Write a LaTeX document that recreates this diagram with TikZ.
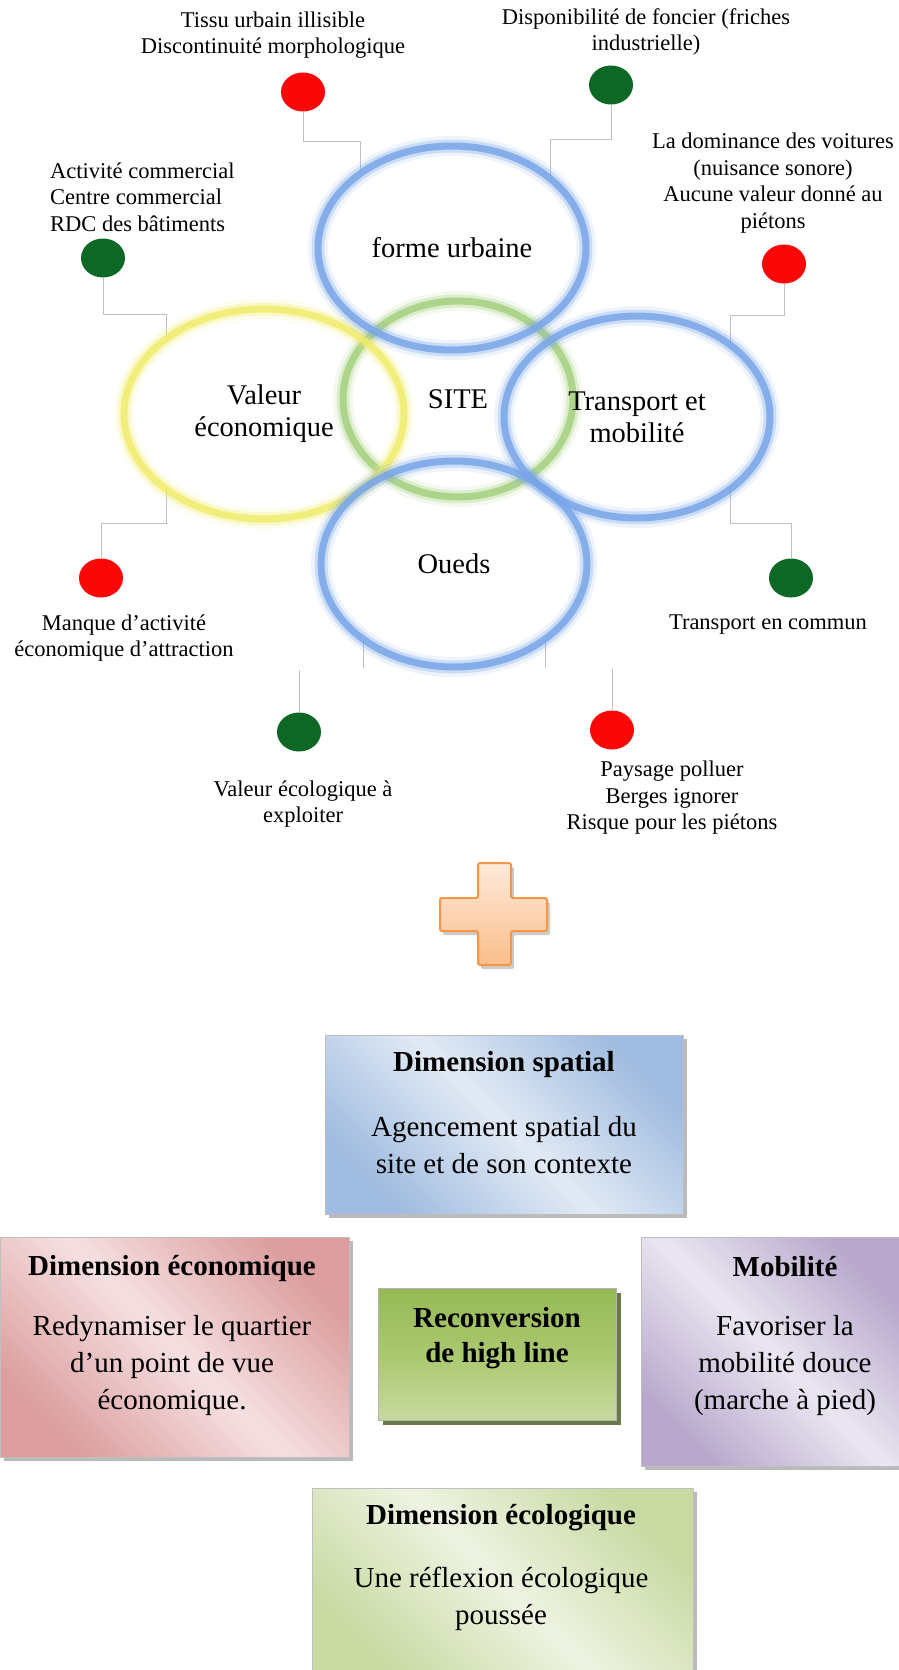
\documentclass[tikz,border=0pt]{standalone}
\usepackage{fontspec}
\setmainfont{Liberation Serif}
\usetikzlibrary{shapes.geometric,shadows}

\definecolor{ringblue}{RGB}{120,165,232}
\definecolor{ringyellow}{RGB}{240,236,110}
\definecolor{ringgreen}{RGB}{165,208,128}
\definecolor{dotred}{RGB}{250,8,8}
\definecolor{dotgreen}{RGB}{12,104,36}
\definecolor{linkgray}{RGB}{192,192,192}
\definecolor{plusedge}{RGB}{247,150,70}
\definecolor{plustop}{RGB}{253,234,218}
\definecolor{plusbottom}{RGB}{251,190,140}
\definecolor{spatialdark}{RGB}{160,188,224}
\definecolor{spatiallight}{RGB}{226,234,245}
\definecolor{econdark}{RGB}{220,158,158}
\definecolor{econlight}{RGB}{246,224,226}
\definecolor{mobdark}{RGB}{184,168,204}
\definecolor{moblight}{RGB}{234,230,241}
\definecolor{ecoldark}{RGB}{200,218,162}
\definecolor{ecollight}{RGB}{238,243,225}
\definecolor{recontop}{RGB}{150,185,85}
\definecolor{reconmid}{RGB}{170,200,110}
\definecolor{reconbottom}{RGB}{200,218,160}
\definecolor{reconshadow}{RGB}{79,98,40}

\tikzset{
  ring/.style={ellipse, inner sep=0pt, draw=#1, line width=7pt, draw opacity=.85,
    preaction={draw=#1, line width=20pt, draw opacity=.12},
    preaction={draw=#1, line width=13pt, draw opacity=.3},
    align=center, font=\fontsize{28.5}{32}\selectfont},
  statedot/.style={ellipse, inner sep=0pt, minimum width=44pt, minimum height=39pt, fill=#1},
  link/.style={draw=linkgray, line width=0.9pt},
  note/.style={inner sep=0pt, align=center, font=\fontsize{22.5}{26.5}\selectfont},
  dimbox/.style={rectangle, anchor=north west, inner sep=0pt, draw=black!25, line width=0.6pt,
    left color=#1dark, right color=#1dark, middle color=#1light, shading angle=135,
    drop shadow={shadow xshift=4pt, shadow yshift=-4pt, fill=black!45, opacity=.6}},
  boxtitle/.style={inner sep=0pt, align=center, font=\bfseries\fontsize{29}{35}\selectfont},
  boxtext/.style={inner sep=0pt, align=center, font=\fontsize{29}{37}\selectfont},
}

\begin{document}
\begin{tikzpicture}[x=1pt,y=1pt,yscale=-1,xscale=1]
\useasboundingbox (0,0) rectangle (898,1670);

\node[statedot=dotred] (d1) at (303,92) {};
\node[statedot=dotgreen] (d2) at (611,85) {};
\node[statedot=dotgreen] (d3) at (103,258) {};
\node[statedot=dotred] (d4) at (784,264) {};
\node[statedot=dotred] (d5) at (101,578) {};
\node[statedot=dotgreen] (d6) at (791,578) {};
\node[statedot=dotgreen] (d7) at (299,732) {};
\node[statedot=dotred] (d8) at (612,730) {};

\coordinate (e1) at (360,174);
\coordinate (e2) at (550,176);
\coordinate (e3) at (166,340);
\coordinate (e4) at (730,345);
\coordinate (e5) at (166,488);
\coordinate (e6) at (730,487);
\coordinate (e7) at (363,639);
\coordinate (e8) at (545,639);

\draw[link] (d1.south) -- ++(0,30) -| (e1);
\draw[link] (d2.south) -- ++(0,35) -| (e2);
\draw[link] (d3.south) -- ++(0,37) -| (e3);
\draw[link] (d4.south) -- ++(0,32) -| (e4);
\draw[link] (e5) -- ++(0,35) -| (d5.north);
\draw[link] (e6) -- ++(0,36) -| (d6.north);
\draw[link] (e7) -- ++(0,29);
\draw[link] (d7.north) -- ++(0,-42);
\draw[link] (e8) -- ++(0,29);
\draw[link] (d8.north) -- ++(0,-41);

\node[ring=ringgreen, minimum width=230pt, minimum height=196pt] (site) at (458,399) {SITE};
\node[ring=ringyellow, minimum width=280pt, minimum height=210pt] (valeur) at (264,414) {Valeur\\économique};
\node[ring=ringblue, minimum width=268pt, minimum height=204pt] (forme) at (452,248) {forme urbaine};
\node[ring=ringblue, minimum width=266pt, minimum height=202pt] (transport) at (637,417) {Transport et\\mobilité};
\node[ring=ringblue, minimum width=266pt, minimum height=206pt] (oueds) at (454,564) {Oueds};

\node[note] (t1) at (273,35) {Tissu urbain illisible\\Discontinuité morphologique};
\node[note] (t2) at (646,32) {Disponibilité de foncier (friches\\industrielle)};
\node[note, align=left, anchor=west] (t3) at (50,197) {Activité commercial\\Centre commercial\\RDC des bâtiments};
\node[note] (t4) at (773,183) {La dominance des voitures\\(nuisance sonore)\\Aucune valeur donné au\\piétons};
\node[note] (t5) at (124,638) {Manque d’activité\\économique d’attraction};
\node[note] (t6) at (768,625) {Transport en commun};
\node[note] (t7) at (303,804) {Valeur écologique à\\exploiter};
\node[note] (t8) at (672,798) {Paysage polluer\\Berges ignorer\\Risque pour les piétons};

\draw[draw=plusedge, line width=2pt, rounded corners=1.5pt, top color=plustop, bottom color=plusbottom,
  drop shadow={shadow xshift=3pt, shadow yshift=-4pt, fill=black!40, opacity=.5}]
  (478,863) -- (511,863) -- (511,898) -- (547,898) -- (547,931) -- (511,931) -- (511,965)
  -- (478,965) -- (478,931) -- (440,931) -- (440,898) -- (478,898) -- cycle;

\node[dimbox=spatial, minimum width=358pt, minimum height=179pt] (spatial) at (325,1035) {};
\node[dimbox=econ, minimum width=349pt, minimum height=220pt] (econ) at (0,1237) {};
\node[dimbox=mob, minimum width=262pt, minimum height=229pt] (mob) at (641,1237) {};
\node[dimbox=ecol, minimum width=381pt, minimum height=190pt] (ecol) at (312,1488) {};
\node[rectangle, anchor=north west, inner sep=0pt, draw=black!30, line width=0.6pt,
  minimum width=238pt, minimum height=132pt,
  top color=recontop, bottom color=reconbottom, middle color=reconmid,
  drop shadow={shadow xshift=5pt, shadow yshift=-5pt, fill=reconshadow, opacity=.85}] (recon) at (378,1288) {};

\node[boxtitle] (spatialtitle) at (504,1065) {Dimension spatial};
\node[boxtext] (spatialtext) at (504,1145) {Agencement spatial du\\site et de son contexte};
\node[boxtitle] (econtitle) at (172,1268) {Dimension économique};
\node[boxtext] (econtext) at (172,1366) {Redynamiser le quartier\\d’un point de vue\\économique.};
\node[boxtitle] (recontext) at (497,1338) {Reconversion\\de high line};
\node[boxtitle] (mobtitle) at (785,1267) {Mobilité};
\node[boxtext] (mobtext) at (785,1366) {Favoriser la\\mobilité douce\\(marche à pied)};
\node[boxtitle] (ecoltitle) at (501,1518) {Dimension écologique};
\node[boxtext] (ecoltext) at (501,1599) {Une réflexion écologique\\poussée};
\end{tikzpicture}
\end{document}
